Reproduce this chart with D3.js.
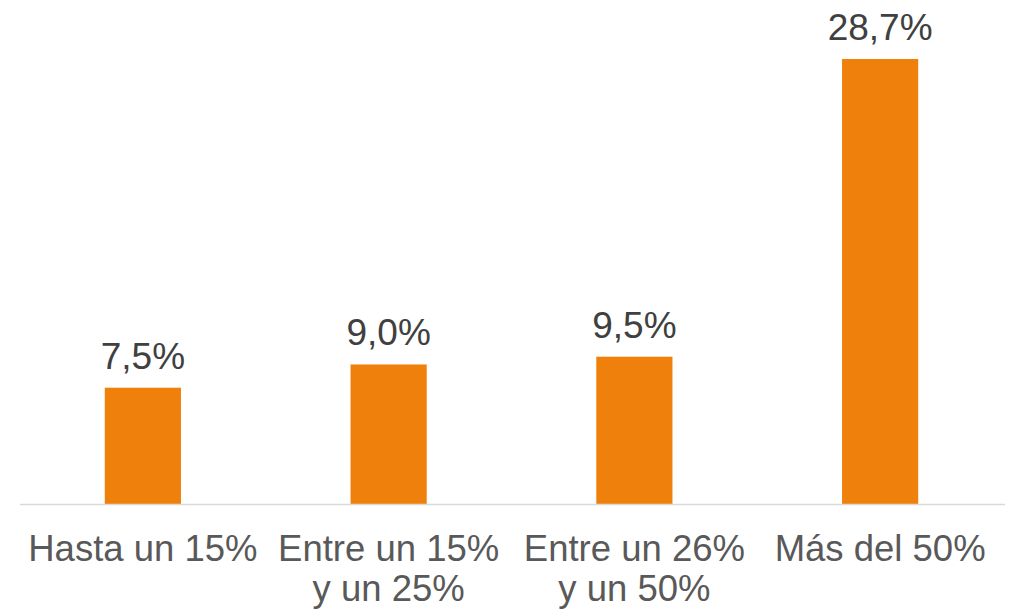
<!DOCTYPE html>
<html>
<head>
<meta charset="utf-8">
<script src="https://cdn.jsdelivr.net/npm/d3@7"></script>
<style>
  body { margin: 0; background: #fff; }
  text { font-family: "Liberation Sans", Arial, sans-serif; }
</style>
</head>
<body>
<div id="chart"></div>
<script>
// chart data
var categories = ["Hasta un 15%", "Entre un 15%|y un 25%", "Entre un 26%|y un 50%", "Más del 50%"];
var values = [7.5, 9.0, 9.5, 28.7];
var valueLabels = ["7,5%", "9,0%", "9,5%", "28,7%"];

var width = 1020, height = 612;
var baseY = 504, topY = 59;

var data = categories.map((c, i) => ({ cat: c, value: values[i], label: valueLabels[i] }));

var svg = d3.select("#chart")
            .append("svg")
            .attr("width", width)
            .attr("height", height);

var x = d3.scaleBand()
          .domain(categories)
          .range([20, 1003])
          .paddingInner(0.69)
          .paddingOuter(0.345);

var y = d3.scaleLinear()
          .domain([0, 28.7])
          .range([baseY, topY]);

// bars
svg.selectAll(".bar")
   .data(data)
   .enter().append("rect")
   .attr("class", "bar")
   .attr("x", d => x(d.cat))
   .attr("y", d => y(d.value))
   .attr("width", x.bandwidth())
   .attr("height", d => baseY - y(d.value))
   .style("fill", "#F0800C");

// baseline
svg.append("line")
   .attr("x1", 20).attr("x2", 1005)
   .attr("y1", baseY + 0.5).attr("y2", baseY + 0.5)
   .style("stroke", "#d9d9d9")
   .style("stroke-width", 1.5);

// value labels
svg.selectAll(".val")
   .data(data)
   .enter().append("text")
   .attr("class", "val")
   .attr("x", d => x(d.cat) + x.bandwidth() / 2)
   .attr("y", d => y(d.value) - 19)
   .attr("text-anchor", "middle")
   .style("font-size", "37px")
   .style("fill", "#404040")
   .text(d => d.label);

// category labels
var cl = svg.selectAll(".cat")
   .data(data)
   .enter().append("text")
   .attr("class", "cat")
   .attr("x", d => x(d.cat) + x.bandwidth() / 2)
   .attr("y", 561)
   .attr("text-anchor", "middle")
   .style("font-size", "36.5px")
   .style("fill", "#595959");

cl.selectAll("tspan")
  .data(d => d.cat.split("|").map(t => ({ t: t, cx: x(d.cat) + x.bandwidth() / 2 })))
  .enter().append("tspan")
  .attr("x", d => d.cx)
  .attr("dy", (d, i) => i === 0 ? 0 : 40)
  .text(d => d.t);
</script>
</body>
</html>
